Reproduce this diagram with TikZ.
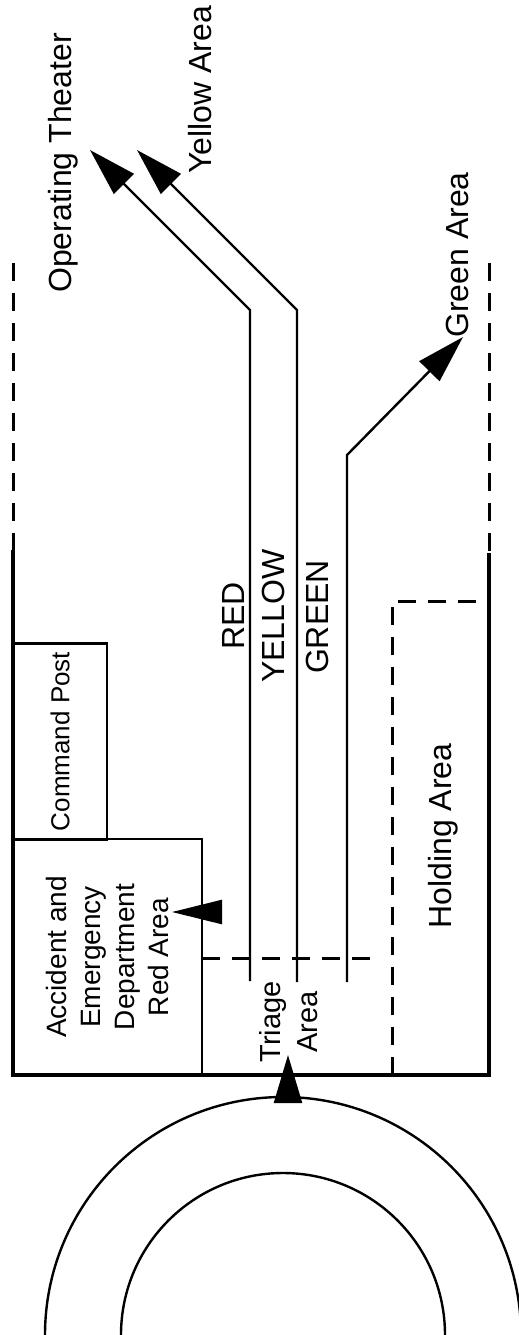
\documentclass[tikz,border=0pt]{standalone}
\usepackage{fontspec}
\setmainfont{Liberation Sans}
\usepackage{tikz}
\usetikzlibrary{arrows.meta, positioning, calc}

\tikzset{
  wallline/.style={line width=1.7pt},
  zoneline/.style={line width=1.5pt, dash pattern=on 9pt off 6pt},
  flowline/.style={line width=1.2pt, -{Triangle[length=24pt, width=14pt]}},
  doorarrow/.style={line width=1.2pt, -{Triangle[length=25pt, width=12pt]}},
  arealabel/.style={rotate=90, inner sep=0pt, font=\fontsize{16}{19}\selectfont},
  roombox/.style={draw, line width=1.3pt, rotate=90, inner sep=0pt, align=center}
}

\begin{document}
\begin{tikzpicture}[x=0.5pt, y=-0.5pt]
  \useasboundingbox (0,0) rectangle (519,1335);

  % Hospital walls
  \draw[wallline] (13,550) -- (13,1075) -- (489,1075) -- (489,553);
  \draw[zoneline] (13,263) -- (13,550);
  \draw[zoneline] (489,263) -- (489,553);

  % Rooms
  \node[roombox, minimum width=98pt, minimum height=47pt, font=\fontsize{13}{16}\selectfont]
    (cmdpost) at (60,741.5) {Command Post};
  \node[roombox, minimum width=118pt, minimum height=94.5pt, font=\fontsize{14}{17}\selectfont]
    (aedept) at (107.5,957) {Accident and\\Emergency\\Department\\Red Area};

  % Triage and holding zones
  \draw[zoneline] (202,958) -- (378,958);
  \draw[zoneline] (392,1075) -- (392,601) -- (489,601);

  % Labels
  \node[arealabel] (optheater) at (63,163) {Operating Theater};
  \node[arealabel] (yellowarea) at (200,90) {Yellow Area};
  \node[arealabel] (greenarea) at (457,255) {Green Area};
  \node[arealabel] (redlbl) at (233,616) {RED};
  \node[arealabel] (yellowlbl) at (273,616) {YELLOW};
  \node[arealabel] (greenlbl) at (317,617) {GREEN};
  \node[arealabel] (holding) at (443,836) {Holding Area};
  \node[arealabel, align=center, font=\fontsize{14.5}{18.5}\selectfont] (triage) at (289,1022) {Triage\\Area};

  % Patient streams
  \coordinate (redin) at (250,981);
  \coordinate (redbend) at (250,310);
  \coordinate (redtip) at (90,150);
  \coordinate (yellowin) at (297,982);
  \coordinate (yellowbend) at (297,310);
  \coordinate (yellowtip) at (137,150);
  \coordinate (greenin) at (347,982);
  \coordinate (greenbend) at (347,455);
  \coordinate (greentip) at (463,337);

  \draw[flowline] (redin) -- (redbend) -- (redtip);
  \draw[flowline] (yellowin) -- (yellowbend) -- (yellowtip);
  \draw[flowline] (greenin) -- (greenbend) -- (greentip);

  % Entry and red area door
  \coordinate (entry) at (288,1103);
  \coordinate (entrytip) at (288,1055);
  \draw[flowline] (entry) -- (entrytip);
  \coordinate (aedoor) at (222,912);
  \coordinate (aedoortip) at (172,912);
  \draw[doorarrow] (aedoor) -- (aedoortip);

  % Ambulance rings
  \draw[line width=1.2pt] (283,1335) ++(180:238) arc[start angle=180, end angle=360, radius=238];
  \draw[line width=1.2pt] (283,1335) ++(180:162) arc[start angle=180, end angle=360, radius=162];
\end{tikzpicture}
\end{document}
